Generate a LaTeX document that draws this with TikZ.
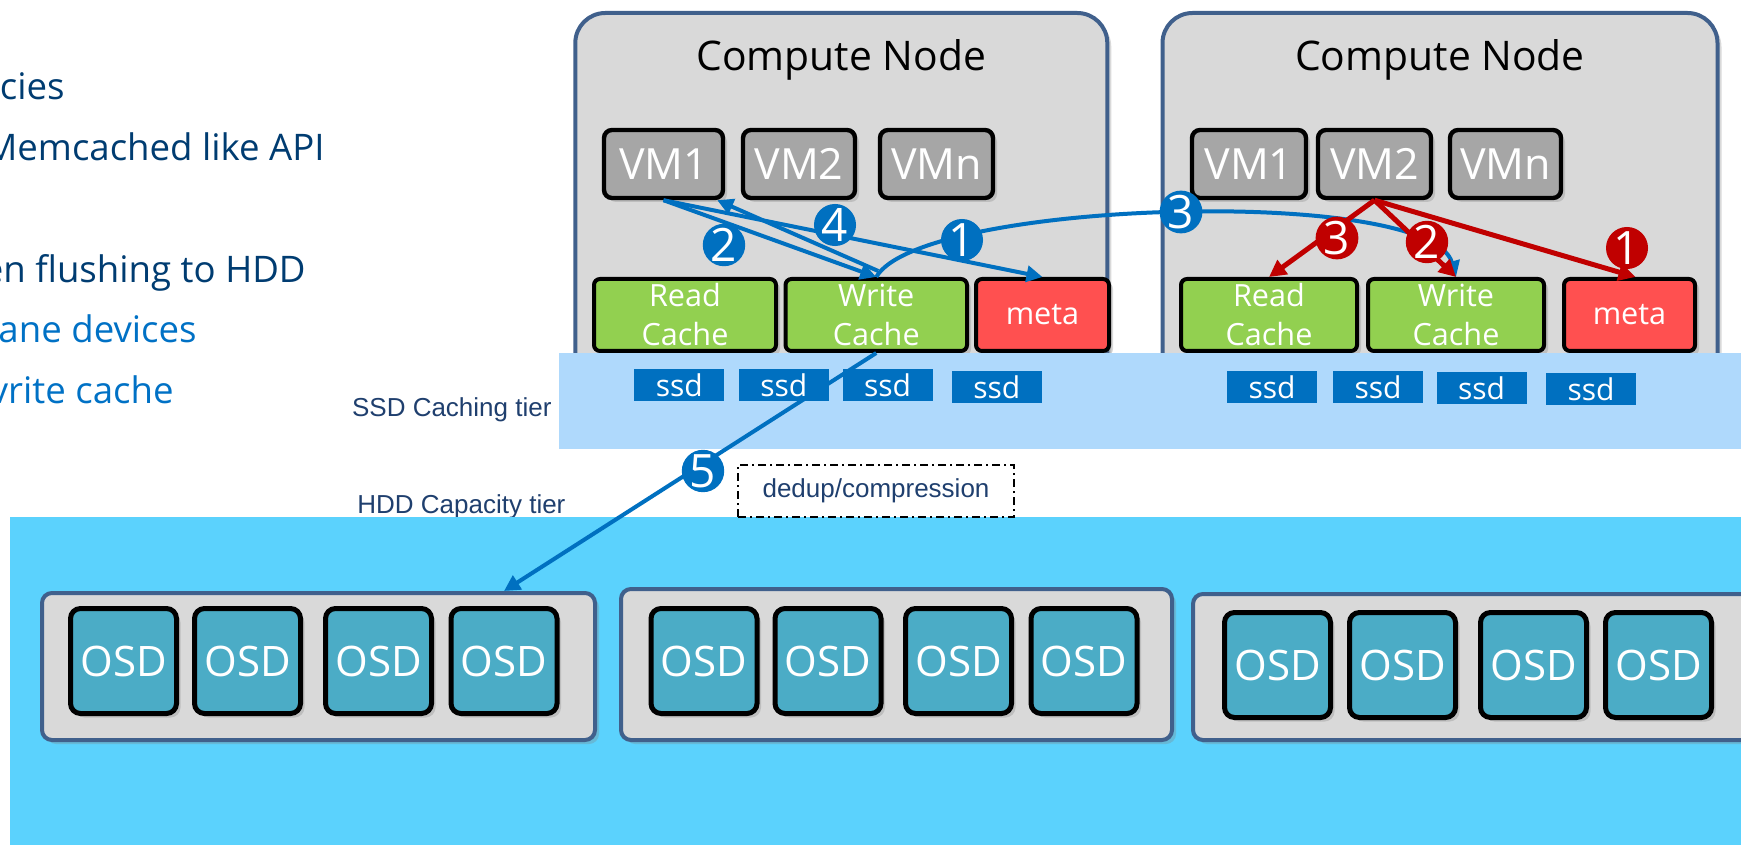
\documentclass[tikz,border=0pt]{standalone}
\usepackage{fontspec}
\setmainfont{Open Sans}
\newfontfamily\arialfont{Liberation Sans}
\usetikzlibrary{arrows.meta,shadows,calc}

\definecolor{navy}{HTML}{003C71}
\definecolor{intelblue}{HTML}{0071C5}
\definecolor{labelnavy}{HTML}{1F3F6E}
\definecolor{steel}{HTML}{40608C}
\definecolor{panelgray}{HTML}{D9D9D9}
\definecolor{vmgray}{HTML}{A6A6A6}
\definecolor{cachegreen}{HTML}{92D050}
\definecolor{metared}{HTML}{FF5050}
\definecolor{ssdblue}{HTML}{0070C0}
\definecolor{ssdband}{HTML}{AFD9FC}
\definecolor{hddband}{HTML}{5BD2FD}
\definecolor{osdteal}{HTML}{4BACC6}
\definecolor{flowblue}{HTML}{0070C0}
\definecolor{flowred}{HTML}{C00000}

\begin{document}
\begin{tikzpicture}[x=0.5pt,y=-0.5pt,
  softshadow/.style={drop shadow={shadow xshift=2pt,shadow yshift=-2pt,opacity=0.3}},
  bullet/.style={anchor=base east,inner sep=0,font=\fontsize{18.3}{22}\selectfont},
  compute/.style={draw=steel,line width=2pt,fill=panelgray,rounded corners=15pt,inner sep=0,softshadow},
  title/.style={anchor=base,inner sep=0,font=\fontsize{20.4}{24}\selectfont},
  vmbox/.style={draw=black,line width=2.2pt,fill=vmgray,rounded corners=4pt,text=white,inner sep=0,
    minimum height=34pt,font=\fontsize{21.5}{24}\selectfont,softshadow},
  cachebox/.style={draw=black,line width=2pt,fill=cachegreen,rounded corners=3pt,text=white,inner sep=0,
    align=center,minimum height=36pt,font=\fontsize{15.3}{19.5}\selectfont,softshadow},
  metabox/.style={cachebox,fill=metared},
  ssdbox/.style={fill=ssdblue,text=white,inner sep=0,minimum width=45pt,minimum height=16pt,
    font=\fontsize{15}{18}\selectfont},
  tier/.style={anchor=base west,inner sep=0,text=labelnavy,font=\arialfont\fontsize{13}{15}\selectfont},
  osdgroup/.style={draw=steel,line width=2pt,fill=panelgray,rounded corners=5pt,inner sep=0,softshadow},
  osd/.style={draw=black,line width=2.5pt,fill=osdteal,rounded corners=5pt,text=white,inner sep=0,
    minimum width=53pt,minimum height=52.5pt,font=\fontsize{21}{24}\selectfont,softshadow},
  flow/.style={draw=flowblue,line width=2pt,-{Triangle[length=8pt,width=8pt]}},
  redflow/.style={draw=flowred,line width=2.5pt,-{Triangle[length=8.5pt,width=8.5pt]}},
  bluenum/.style={circle,fill=flowblue,text=white,inner sep=0,minimum size=19.5pt,
    font=\fontsize{23}{23}\selectfont},
  rednum/.style={bluenum,fill=flowred}
]
\useasboundingbox (0,0) rectangle (1741,845);
\clip (0,0) rectangle (1741,845);

% bullet text running in from the left
\node[bullet,text=navy] (t1) at (65,100) {cies};
\node[bullet,text=navy] (t2) at (325,161) {Memcached like API};
\node[bullet,text=navy] (t3) at (306,283) {en flushing to HDD};
\node[bullet,text=intelblue] (t4) at (197,343) {ane devices};
\node[bullet,text=intelblue] (t5) at (174,403) {vrite cache};

% compute node 1
\node[compute,minimum width=266pt,minimum height=193pt] (cn1) at (841.3,206) {};
\node[title] (cn1t) at (841.3,70.7) {Compute Node};
\node[vmbox,minimum width=59.5pt] (vm11) at (663.5,164) {VM1};
\node[vmbox,minimum width=56pt] (vm12) at (799,164) {VM2};
\node[vmbox,minimum width=56.5pt] (vm1n) at (936.5,164) {VMn};
\node[cachebox,minimum width=91pt] (rc1) at (685,315) {Read\\Cache};
\node[cachebox,minimum width=90.75pt] (wc1) at (876.25,315) {Write\\Cache};
\node[metabox,minimum width=66.5pt] (meta1) at (1042.5,315) {meta};

% compute node 2
\node[compute,minimum width=277.5pt,minimum height=193pt] (cn2) at (1440,206) {};
\node[title] (cn2t) at (1440,70.7) {Compute Node};
\node[vmbox,minimum width=57pt] (vm21) at (1249,164) {VM1};
\node[vmbox,minimum width=56.5pt] (vm22) at (1374.5,164) {VM2};
\node[vmbox,minimum width=55.5pt] (vm2n) at (1505.5,164) {VMn};
\node[cachebox,minimum width=88pt] (rc2) at (1269,315) {Read\\Cache};
\node[cachebox,minimum width=88pt] (wc2) at (1456,315) {Write\\Cache};
\node[metabox,minimum width=65.5pt] (meta2) at (1629.5,315) {meta};

% SSD caching tier
\fill[ssdband] (558.6,353) rectangle (1745,449);
\node[ssdbox] (s11) at (679.3,385) {ssd};
\node[ssdbox] (s12) at (783.8,385) {ssd};
\node[ssdbox] (s13) at (887.5,385) {ssd};
\node[ssdbox] (s14) at (996.8,387) {ssd};
\node[ssdbox] (s21) at (1272,387) {ssd};
\node[ssdbox] (s22) at (1378,387) {ssd};
\node[ssdbox] (s23) at (1481.5,388) {ssd};
\node[ssdbox] (s24) at (1591,389) {ssd};
\node[tier] (ssdlbl) at (351.7,416.7) {SSD Caching tier};
\node[tier] (hddlbl) at (357,513) {HDD Capacity tier};

% HDD capacity tier
\fill[hddband] (10.3,517) rectangle (1745,850);
\node[osdgroup,minimum width=276.5pt,minimum height=73.5pt] (grp1) at (318.5,666.5) {};
\node[osdgroup,minimum width=275.5pt,minimum height=75.5pt] (grp2) at (896.5,664.5) {};
\node[osdgroup,minimum width=287.5pt,minimum height=73pt] (grp3) at (1480.5,667) {};
\node[osd] (osd11) at (123.5,661) {OSD};
\node[osd] (osd12) at (247.5,661) {OSD};
\node[osd] (osd13) at (378.5,661) {OSD};
\node[osd] (osd14) at (504,661) {OSD};
\node[osd] (osd21) at (704,661) {OSD};
\node[osd] (osd22) at (828,661) {OSD};
\node[osd] (osd23) at (958.5,661) {OSD};
\node[osd] (osd24) at (1084,661) {OSD};
\node[osd] (osd31) at (1277.5,665) {OSD};
\node[osd] (osd32) at (1402.5,665) {OSD};
\node[osd] (osd33) at (1533.5,665) {OSD};
\node[osd] (osd34) at (1658.5,665) {OSD};

% dedup box between the tiers
\node[draw=black,line width=0.75pt,dash pattern=on 4pt off 2pt on 1pt off 2pt,
  minimum width=138pt,minimum height=26pt,inner sep=0,text=labelnavy,
  font=\arialfont\fontsize{13}{15}\selectfont] (dedup) at (876,491) {dedup/compression};

% write path on compute node 1
\draw[flow] (vm11.south) -- (wc1.north);
\draw[flow] (vm11.south) -- (meta1.north);
\draw[flow] ($(wc1.north)+(2,-6)$) -- ($(vm11.south east)+(-8,0)$);
\draw[flow] (wc1.north) .. controls +(44,-77) and +(-26,-92) .. (wc2.north);
\draw[flow] (wc1.south) -- (osd14.north |- grp1.north);

% replica path on compute node 2
\draw[redflow] (vm22.south) -- (rc2.north);
\draw[redflow] (vm22.south) -- (wc2.north);
\draw[redflow] (vm22.south) -- ($(meta2.north)+(6,0)$);

% step numbers
\node[bluenum] (b2) at (724,245) {2};
\node[bluenum] (b4) at (835,225) {4};
\node[bluenum] (b1) at (962,240) {1};
\node[bluenum] (b3) at (1181,212) {3};
\node[bluenum] (b5) at (703,471) {5};
\node[rednum] (r3) at (1337,238) {3};
\node[rednum] (r2) at (1427,242) {2};
\node[rednum] (r1) at (1627,248) {1};
\end{tikzpicture}
\end{document}
